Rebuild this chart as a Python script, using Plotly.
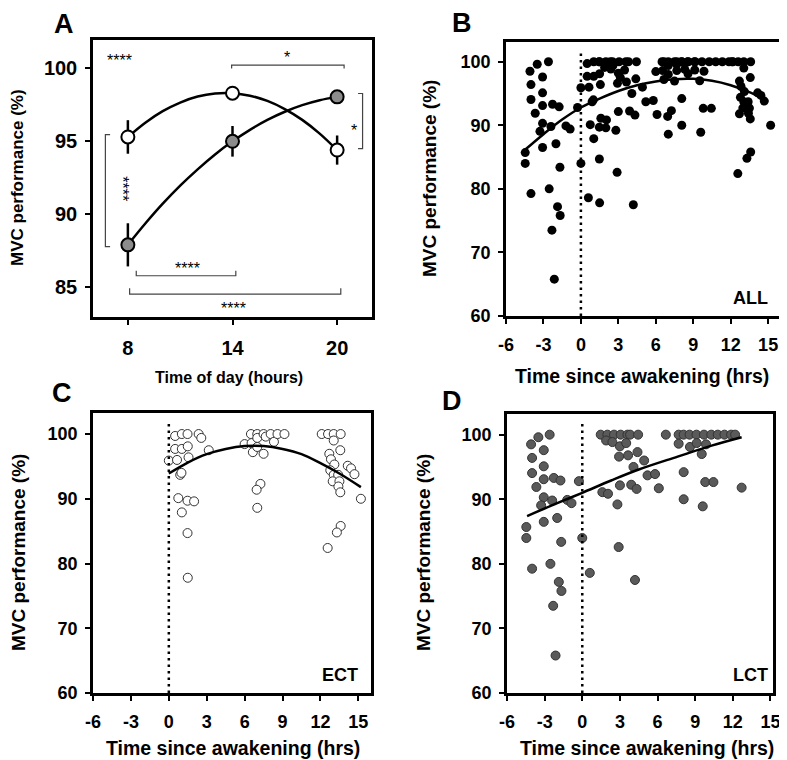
import plotly.graph_objects as go

# ---- panel A: group means by time of day ----
tod = [8, 14, 20]
ect_mean = [95.3, 98.3, 94.4]
ect_err = [1.15, 0.3, 1.0]
lct_mean = [87.9, 95.0, 98.05]
lct_err = [1.48, 1.05, 0.3]

# fitted curves
fit_a_x = [8, 9, 10, 11, 12, 13, 14, 15, 16, 17, 18, 19, 20]
fit_a_ect = [95.3, 96.28, 97.07, 97.66, 98.07, 98.28, 98.3, 98.13, 97.77, 97.21, 96.47, 95.53, 94.4]
fit_a_lct = [87.9, 89.36, 90.72, 91.96, 93.08, 94.1, 95.0, 95.79, 96.47, 97.03, 97.48, 97.82, 98.05]

# ---- ECT individual values (time since awakening, MVC %) ----
ect_t = [0.0, 0.5, 0.5, 0.65, 1.03, 1.48, 1.03, 1.5, 1.56, 0.9, 1.0, 0.75, 1.48, 2.0, 1.03, 1.48, 1.5,
         2.36, 2.57, 3.16,
         6.0, 6.5, 6.55, 6.65, 7.0, 7.0, 7.0, 7.5, 7.5, 7.67, 8.06, 8.32, 8.6, 9.15, 7.25, 6.95, 7.0,
         12.1, 12.6, 13.05, 13.6, 13.05, 13.57, 12.7, 12.83, 13.1, 12.78, 13.05, 13.4, 12.97, 13.5,
         13.42, 13.57, 14.16, 14.42, 14.69, 15.2, 13.6, 13.3, 12.57]
ect_mvc = [95.9, 99.7, 97.7, 96.0, 100, 100, 97.7, 98.1, 96.4, 93.7, 94.0, 90.1, 89.7, 89.6, 87.9, 84.7, 77.8,
           100, 99.4, 97.5,
           98.45, 100, 98.6, 97.2, 100, 99.4, 98.0, 100, 96.95, 99.6, 100, 98.8, 100, 100, 92.3, 91.4, 88.6,
           100, 100, 100, 100, 99.0, 97.5, 96.95, 96.1, 95.3, 94.4, 93.7, 93.7, 92.7, 92.7,
           91.9, 91.0, 95.1, 94.7, 93.8, 90.0, 85.8, 84.8, 82.4]

# ---- LCT individual values ----
lct_t = [-3.5, -2.6, -4.08, -3.07, -4.0, -3.07, -4.0, -3.07, -2.27, -1.74, -3.66, -3.07, -2.4, -3.28,
         -1.2, -0.86, -0.27, -4.46, -4.46, -3.07, -2.0, -1.68, 0.0, -4.0, -2.54, -1.87, -1.66, 0.6,
         -2.32, -2.13,
         1.47, 2.0, 2.53, 3.06, 3.6, 3.81, 4.45, 6.66, 7.68, 8.08, 8.55, 9.1, 9.7, 10.28, 10.8, 11.33,
         11.86, 12.18,
         1.9, 2.4, 3.0, 3.5, 2.93, 3.65, 4.4, 4.93, 4.08, 5.2, 5.8, 3.0, 3.9, 4.33, 6.1, 1.6, 2.05,
         2.8, 2.9, 4.2, 8.08, 7.68, 8.58, 9.12, 9.86, 9.52, 9.8, 10.45, 12.7, 8.08, 9.6]
lct_mvc = [99.6, 100, 98.5, 97.6, 96.4, 95.1, 94.05, 93.1, 93.3, 92.9, 91.9, 90.3, 89.8, 89.05,
           89.9, 89.4, 92.8, 85.7, 84.0, 86.5, 87.1, 83.4, 84.0, 79.25, 80.0, 77.2, 75.8, 78.6,
           73.5, 65.8,
           100, 100, 100, 100, 100, 100, 100, 100, 100, 100, 100, 100, 100, 100, 100, 100,
           100, 100,
           99.1, 98.85, 98.2, 98.7, 96.6, 96.8, 97.3, 96.0, 95.0, 93.7, 93.9, 92.15, 92.25, 91.6, 91.7, 91.1, 90.85,
           89.2, 82.6, 77.5, 94.2, 98.6, 98.1, 98.7, 98.5, 97.0, 92.66, 92.66, 91.8, 90.0, 88.9]

all_t = ect_t + lct_t
all_mvc = ect_mvc + lct_mvc

# fitted curves for B, C, D
fit_all_x = [-4.5, -3, -1.5, 0, 1.5, 3, 4.5, 6, 7.5, 9, 10.5, 12, 13.5, 15]
fit_all_y = [86.1, 88.6, 90.9, 92.8, 94.2, 95.4, 96.3, 96.9, 97.25, 97.3, 97.0, 96.3, 95.2, 93.7]
fit_ect_x = [0, 1.5, 3, 4.5, 6, 7.5, 9, 10.5, 12, 13.5, 15.2]
fit_ect_y = [93.9, 95.6, 96.9, 97.7, 98.15, 98.15, 97.7, 96.9, 95.5, 93.9, 91.8]
fit_lct_x = [-4.4, -2, 0, 2.3, 4.5, 7.6, 10.3, 12.7]
fit_lct_y = [87.4, 89.4, 91.0, 92.9, 94.6, 96.6, 98.3, 99.6]

hrs = [-6, -3, 0, 3, 6, 9, 12, 15]
pct = [60, 70, 80, 90, 100]
pct_a = [85, 90, 95, 100]

# page body has an 8px margin, so the figure is a bit smaller and shifted
OFF = 8
W, H = 787 - OFF, 760 - OFF
FONT = "Liberation Sans, Arial, sans-serif"

fig = go.Figure()

# panel A
fig.add_trace(go.Scatter(x=fit_a_x, y=fit_a_ect, mode="lines", line=dict(color="black", width=2.5, shape="spline"),
                         xaxis="x", yaxis="y", showlegend=False))
fig.add_trace(go.Scatter(x=fit_a_x, y=fit_a_lct, mode="lines", line=dict(color="black", width=2.5, shape="spline"),
                         xaxis="x", yaxis="y", showlegend=False))
fig.add_trace(go.Scatter(x=tod, y=ect_mean, mode="markers",
                         error_y=dict(type="data", array=ect_err, color="black", thickness=2.5, width=0),
                         marker=dict(size=13, color="white", line=dict(color="black", width=2)),
                         xaxis="x", yaxis="y", showlegend=False))
fig.add_trace(go.Scatter(x=tod, y=lct_mean, mode="markers",
                         error_y=dict(type="data", array=lct_err, color="black", thickness=2.5, width=0),
                         marker=dict(size=13, color="#8c8c8c", line=dict(color="black", width=2)),
                         xaxis="x", yaxis="y", showlegend=False))

# panels B, C, D
fig.add_trace(go.Scatter(x=all_t, y=all_mvc, mode="markers",
                         marker=dict(size=9, color="black", line=dict(width=0)),
                         xaxis="x2", yaxis="y2", showlegend=False))
fig.add_trace(go.Scatter(x=fit_all_x, y=fit_all_y, mode="lines", line=dict(color="black", width=2.5, shape="spline"),
                         xaxis="x2", yaxis="y2", showlegend=False))
fig.add_trace(go.Scatter(x=ect_t, y=ect_mvc, mode="markers",
                         marker=dict(size=9, color="white", line=dict(color="#333333", width=1)),
                         xaxis="x3", yaxis="y3", showlegend=False))
fig.add_trace(go.Scatter(x=fit_ect_x, y=fit_ect_y, mode="lines", line=dict(color="black", width=2.5, shape="spline"),
                         xaxis="x3", yaxis="y3", showlegend=False))
fig.add_trace(go.Scatter(x=lct_t, y=lct_mvc, mode="markers",
                         marker=dict(size=9, color="#5a5a5a", line=dict(color="#333333", width=1)),
                         xaxis="x4", yaxis="y4", showlegend=False))
fig.add_trace(go.Scatter(x=fit_lct_x, y=fit_lct_y, mode="lines", line=dict(color="black", width=2.5, shape="spline"),
                         xaxis="x4", yaxis="y4", showlegend=False))


def box_axis(rng, domain, anchor, tickvals, size, standoff):
    return dict(range=rng, domain=domain, anchor=anchor, tickvals=tickvals,
                ticktext=[f"<b>{v}</b>" for v in tickvals],
                showline=True, linewidth=2.5, linecolor="black", mirror=True,
                ticks="outside", ticklen=5, tickwidth=2, tickcolor="black",
                showgrid=False, zeroline=False, automargin=False, fixedrange=True,
                ticklabelstandoff=standoff,
                tickfont=dict(family=FONT, size=size, color="black"))


def px_x(a, b):
    return [(a - OFF) / W, (b - OFF) / W]


def px_y(top, bottom):
    return [(H - (bottom - OFF)) / H, (H - (top - OFF)) / H]


fig.update_layout(
    width=W, height=H, margin=dict(l=0, r=0, t=0, b=0),
    paper_bgcolor="white", plot_bgcolor="white",
    font=dict(family=FONT, color="black"),
    xaxis=box_axis([6, 22], px_x(93, 372), "y", tod, 20, 6),
    yaxis=box_axis([82.95, 101.95], px_y(40, 317), "x", pct_a, 20, 4),
    xaxis2=box_axis([-6, 15.95], px_x(506, 780), "y2", hrs, 18, 6),
    yaxis2=box_axis([60, 103.1], px_y(42, 316), "x2", pct, 18, 4),
    xaxis3=box_axis([-6, 16.0], px_x(93, 371), "y3", hrs, 18, 6),
    yaxis3=box_axis([60, 103.25], px_y(413, 693), "x3", pct, 18, 4),
    xaxis4=box_axis([-6, 15.2], px_x(507, 773), "y4", hrs, 18, 6),
    yaxis4=box_axis([60, 103.2], px_y(414, 693), "x4", pct, 18, 4),
)

# awakening reference line
for xr, yr in [("x2", "y2"), ("x3", "y3"), ("x4", "y4")]:
    fig.add_shape(type="line", xref=xr, yref=yr, x0=0, x1=0, y0=60, y1=101.9,
                  line=dict(color="black", width=2.5, dash="2.5px,4px"))

# significance brackets in A
br = dict(color="#444444", width=1.2)
brackets = [
    [(13.95, 100.0), (13.95, 100.23), (20.4, 100.23), (20.4, 100.0)],
    [(21.2, 98.28), (21.46, 98.28), (21.46, 94.5), (21.2, 94.5)],
    [(6.98, 95.46), (6.71, 95.46), (6.71, 87.78), (6.98, 87.78)],
    [(8.48, 86.12), (8.48, 85.78), (14.19, 85.78), (14.19, 86.12)],
    [(8.1, 84.93), (8.1, 84.52), (20.21, 84.52), (20.21, 84.93)],
]
for pts in brackets:
    path = "M " + " L ".join(f"{x},{y}" for x, y in pts)
    fig.add_shape(type="path", path=path, xref="x", yref="y", line=br)

stars = [("****", 7.5, 100.55, 0), ("*", 17.15, 100.75, 0), ("*", 20.95, 95.75, 0),
         ("****", 7.7, 91.74, 90), ("****", 11.4, 86.3, 0), ("****", 14.05, 83.5, 0)]
for txt, x, y, ang in stars:
    fig.add_annotation(text=txt, x=x, y=y, xref="x", yref="y", showarrow=False, textangle=ang,
                       font=dict(family=FONT, size=16, color="black"))

# axis titles (positions in page pixels)
titles = [
    ("MVC performance (%)", 17, 178, -90, 17),
    ("Time of day (hours)", 229, 377, 0, 16),
    ("MVC performance (%)", 429, 179, -90, 19),
    ("Time since awakening (hrs)", 642, 376, 0, 19.5),
    ("MVC performance (%)", 18, 553, -90, 19),
    ("Time since awakening (hrs)", 233, 748, 0, 19.5),
    ("MVC performance (%)", 423, 553, -90, 19),
    ("Time since awakening (hrs)", 647, 748, 0, 19.5),
]
for txt, x, y, ang, s in titles:
    fig.add_annotation(text=f"<b>{txt}</b>", x=(x - OFF) / W, y=1 - (y - OFF) / H, xref="paper", yref="paper",
                       showarrow=False, textangle=ang, xanchor="center", yanchor="middle",
                       font=dict(family=FONT, size=s, color="black"))

# panel letters
for txt, x, y in [("A", 64, 24), ("B", 462, 23), ("C", 62, 393), ("D", 452, 401)]:
    fig.add_annotation(text=f"<b>{txt}</b>", x=(x - OFF) / W, y=1 - (y - OFF) / H, xref="paper", yref="paper",
                       showarrow=False, xanchor="center", yanchor="middle",
                       font=dict(family=FONT, size=27, color="black"))

# group labels
for txt, xr, yr, xd in [("ALL", "x2", "y2", 0.965), ("ECT", "x3", "y3", 0.96), ("LCT", "x4", "y4", 0.99)]:
    fig.add_annotation(text=f"<b>{txt}</b>", x=xd, y=0.064, xref=xr + " domain", yref=yr + " domain",
                       showarrow=False, xanchor="right", yanchor="middle",
                       font=dict(family=FONT, size=18, color="black"))

fig.write_html("out.html")
